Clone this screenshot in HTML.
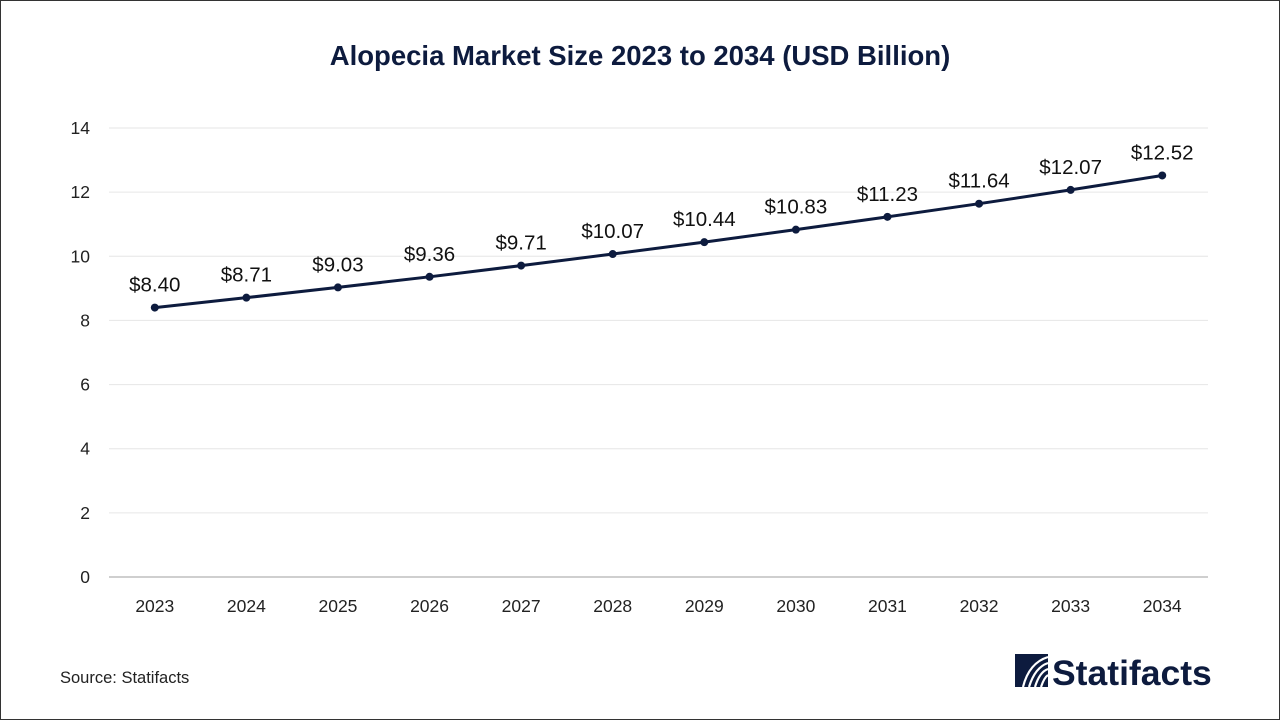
<!DOCTYPE html>
<html><head><meta charset="utf-8"><style>
html,body{margin:0;padding:0;background:#fff;}
#wrap{position:relative;width:1278px;height:718px;border:1px solid #333;overflow:hidden;font-family:"Liberation Sans",sans-serif;}
</style></head><body>
<div id="wrap">
<svg id="chart" width="1278" height="718">
<text x="639" y="64" text-anchor="middle" font-size="27.5" font-weight="bold" fill="#0d1b3e">Alopecia Market Size 2023 to 2034 (USD Billion)</text>
<g id="grid"></g><g id="axes"></g><g id="series"></g>
<text x="59" y="682" font-size="16.5" fill="#222">Source: Statifacts</text>
<g>
<rect x="1014" y="653" width="33" height="33" fill="#0d1b3e"/>
<path d="M1022 686 C1026 670 1034 660 1047 656 M1028 686 C1032 673 1038 665 1047 662 M1034 686 C1037 676 1041 670 1047 668 M1040 686 C1042 680 1044 676 1047 674" stroke="#fff" stroke-width="2.2" fill="none"/>
<text x="1051" y="684" font-size="35.5" font-weight="bold" fill="#0d1b3e">Statifacts</text>
</g>
</svg>
</div>
<script>
const years=["2023","2024","2025","2026","2027","2028","2029","2030","2031","2032","2033","2034"];
const values=[8.40,8.71,9.03,9.36,9.71,10.07,10.44,10.83,11.23,11.64,12.07,12.52];
const labels=["$8.40","$8.71","$9.03","$9.36","$9.71","$10.07","$10.44","$10.83","$11.23","$11.64","$12.07","$12.52"];
const yTicks=[0,2,4,6,8,10,12,14];
const NS="http://www.w3.org/2000/svg";
const x0=108,x1=1207,yBase=576,yTop=127,yMax=14;
const bw=(x1-x0)/years.length;
function xs(i){return x0+bw*(i+0.5);}
function ys(v){return yBase-(v/yMax)*(yBase-yTop);}
function mk(tag,attrs,parent){const e=document.createElementNS(NS,tag);for(const k in attrs)e.setAttribute(k,attrs[k]);parent.appendChild(e);return e;}
const grid=document.getElementById('grid'),axes=document.getElementById('axes'),series=document.getElementById('series');
yTicks.forEach(t=>{
  const y=ys(t);
  if(t>0){const l=mk('line',{x1:x0,x2:x1,y1:y,y2:y,stroke:'#e6e6e6','stroke-width':1},grid);
  
  }
  const tx=mk('text',{x:89,y:y+6,'text-anchor':'end','font-size':17.5,fill:'#222'},axes);
  tx.textContent=t;
  
  
});
const ax=mk('line',{x1:x0,x2:x1,y1:yBase,y2:yBase,stroke:'#bfbfbf','stroke-width':1.5},axes);


years.forEach((yr,i)=>{
  const t=mk('text',{x:xs(i),y:611,'text-anchor':'middle','font-size':17.5,fill:'#222'},axes);
  t.textContent=yr;
  
  
});
const pts=values.map((v,i)=>xs(i)+','+ys(v)).join(' ');
const pl=mk('polyline',{points:pts,fill:'none',stroke:'#0d1b3e','stroke-width':3},series);


values.forEach((v,i)=>{
  const c=mk('circle',{cx:xs(i),cy:ys(v),r:4,fill:'#0d1b3e'},series);
  
  
  const t=mk('text',{x:xs(i),y:ys(v)-16,'text-anchor':'middle','font-size':20.5,fill:'#111'},series);
  t.textContent=labels[i];
  
  
});
</script>
</body></html>
